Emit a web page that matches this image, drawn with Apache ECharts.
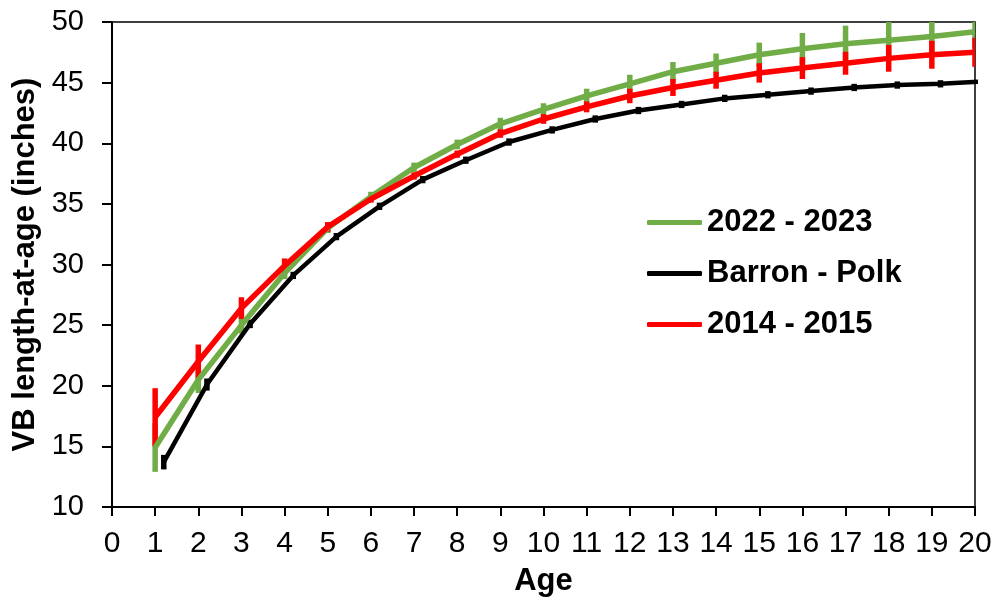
<!DOCTYPE html>
<html>
<head>
<meta charset="utf-8">
<script src="https://cdn.jsdelivr.net/npm/echarts@6/dist/echarts.min.js"></script>
<style>html,body{margin:0;padding:0;background:#fff;}#c{width:995px;height:602px;}</style>
</head>
<body>
<div id="c"></div>
<script>
const ages = [1,2,3,4,5,6,7,8,9,10,11,12,13,14,15,16,17,18,19,20];
const blackAges = [1.2,2.2,3.2,4.2,5.2,6.2,7.2,8.2,9.2,10.2,11.2,12.2,13.2,14.2,15.2,16.2,17.2,18.2,19.2,20.2];
const green = [14.9,20.5,25.0,29.3,33.0,35.6,38.0,39.9,41.6,42.8,43.9,44.9,45.9,46.6,47.3,47.8,48.2,48.5,48.8,49.2];
const greenErr = [2.0,1.1,0.7,0.5,0.4,0.4,0.4,0.4,0.5,0.5,0.6,0.75,0.8,0.8,1.0,1.3,1.5,1.5,1.4,1.3];
const red = [17.4,22.0,26.4,29.9,33.1,35.4,37.3,39.1,40.8,42.0,43.0,43.9,44.6,45.2,45.8,46.2,46.6,47.0,47.3,47.5];
const redErr = [2.4,1.4,0.9,0.6,0.4,0.3,0.3,0.3,0.35,0.4,0.45,0.6,0.7,0.7,0.8,0.9,0.95,1.1,1.15,1.2];
const black = [13.7,20.1,25.1,29.1,32.3,34.8,37.0,38.6,40.1,41.1,42.0,42.7,43.2,43.7,44.0,44.3,44.6,44.8,44.9,45.1];
const blackErr = [0.6,0.5,0.35,0.3,0.3,0.3,0.3,0.3,0.3,0.3,0.3,0.3,0.3,0.3,0.3,0.3,0.3,0.3,0.3,0.3];
const names = ['2022 - 2023','Barron - Polk','2014 - 2015'];
const colors = {g:'#70ad47', b:'#000000', r:'#ff0000'};
const FONT = 'Liberation Sans, Arial, sans-serif';

function pts(xs, ys){ return xs.map((x,i)=>[x, ys[i]]); }
function errs(xs, ys, es){ return xs.map((x,i)=>[x, ys[i]-es[i], ys[i]+es[i]]); }
function errSeries(name, data, color, w){
  return {
    type:'custom', name: name, data: data, clip: true, silent: true,
    renderItem: function(params, api){
      const p1 = api.coord([api.value(0), api.value(1)]);
      const p2 = api.coord([api.value(0), api.value(2)]);
      return {type:'line', shape:{x1:p1[0], y1:p1[1], x2:p2[0], y2:p2[1]},
        style:{stroke: color, lineWidth: w}};
    }
  };
}

const chart = echarts.init(document.getElementById('c'), null, {renderer:'canvas'});
chart.setOption({
  animation:false,
  backgroundColor:'#fff',
  grid:{left:112, right:20, top:22, bottom:92, show:true, borderColor:'#000', borderWidth:1.5, backgroundColor:'transparent'},
  legend:{
    show:true, orient:'vertical', left:642, top:202, itemGap:20,
    data: names, icon:'roundRect', itemWidth:55, itemHeight:5,
    textStyle:{fontFamily:FONT, fontSize:31, fontWeight:'bold', color:'#000', lineHeight:31}
  },
  xAxis:{
    type:'value', min:0, max:20, interval:1,
    name:'Age', nameLocation:'middle', nameGap:59,
    nameTextStyle:{fontFamily:FONT, fontSize:31, fontWeight:'bold', color:'#000'},
    axisLine:{show:true, lineStyle:{color:'#000', width:2}},
    axisTick:{show:true, inside:false, length:9, lineStyle:{color:'#000', width:2}},
    axisLabel:{fontFamily:FONT, fontSize:30, color:'#000', margin:22},
    splitLine:{show:false}
  },
  yAxis:{
    type:'value', min:10, max:50, interval:5,
    name:'VB length-at-age (inches)', nameLocation:'middle', nameGap:70,
    nameTextStyle:{fontFamily:FONT, fontSize:31, fontWeight:'bold', color:'#000'},
    axisLine:{show:true, lineStyle:{color:'#000', width:2}},
    axisTick:{show:true, inside:false, length:10, lineStyle:{color:'#000', width:2}},
    axisLabel:{fontFamily:FONT, fontSize:29, color:'#000', margin:28},
    splitLine:{show:false}
  },
  series:[
    {type:'line', name:names[0], data: pts(ages, green), showSymbol:false, symbol:'none', clip:true,
      lineStyle:{color:colors.g, width:5.5}, itemStyle:{color:colors.g}},
    errSeries(names[0], errs(ages, green, greenErr), colors.g, 5.5),
    {type:'line', name:names[1], data: pts(blackAges, black), showSymbol:false, symbol:'none', clip:true,
      lineStyle:{color:colors.b, width:4.5}, itemStyle:{color:colors.b}},
    errSeries(names[1], errs(blackAges, black, blackErr), colors.b, 5.5),
    {type:'line', name:names[2], data: pts(ages, red), showSymbol:false, symbol:'none', clip:true,
      lineStyle:{color:colors.r, width:5.5}, itemStyle:{color:colors.r}},
    errSeries(names[2], errs(ages, red, redErr), colors.r, 5.5)
  ]
});
</script>
</body>
</html>
